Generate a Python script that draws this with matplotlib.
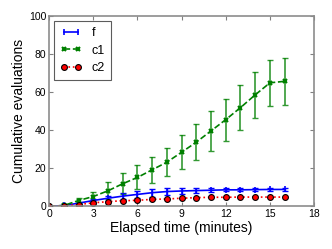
import numpy as np
import matplotlib
matplotlib.use("Agg")
import matplotlib.pyplot as plt

plt.rcParams['font.family'] = ['Liberation Sans', 'DejaVu Sans']

# elapsed time (minutes)
minutes = list(range(17))

# cumulative evaluations, mean and error
f_mean = [0, 0.5, 1.7, 3.1, 4.3, 5.4, 6.3, 7.2, 7.8, 8.1, 8.3, 8.5, 8.7, 8.7, 8.8, 8.9, 8.9]
f_err = [0, 0.3, 0.6, 1.0, 1.4, 1.7, 1.9, 2.0, 1.8, 1.5, 1.2, 1.0, 0.8, 0.7, 0.6, 0.6, 0.6]
c1_mean = [0, 0.5, 3.1, 5.2, 8.2, 11.9, 15.2, 19.2, 23.2, 28.4, 33.7, 39.6, 45.5, 51.8, 58.5, 64.8, 65.6]
c1_err = [0, 0.5, 1.5, 2.6, 4.4, 5.4, 6.3, 6.8, 7.4, 8.8, 9.4, 10.3, 11.0, 11.6, 12.0, 12.2, 12.3]
c2_mean = [0, 0.2, 1.0, 1.9, 2.5, 3.0, 3.2, 3.7, 3.9, 4.3, 4.6, 4.8, 4.8, 4.9, 4.9, 4.9, 4.9]
c2_err = [0, 0.1, 0.2, 0.3, 0.3, 0.3, 0.3, 0.3, 0.3, 0.3, 0.3, 0.3, 0.3, 0.3, 0.3, 0.3, 0.3]

fig = plt.figure(figsize=(3.32, 2.49), dpi=100)
ax = fig.add_axes([0.148, 0.171, 0.798, 0.766])

# error bars first, no legend entry
ax.errorbar(minutes, f_mean, yerr=f_err, fmt='none', ecolor='b', capsize=2.5, elinewidth=1)
ax.errorbar(minutes, c1_mean, yerr=c1_err, fmt='none', ecolor='g', capsize=2.5, elinewidth=1.2, alpha=0.8)
ax.errorbar(minutes, c2_mean, yerr=c2_err, fmt='none', ecolor='r', capsize=1.5, elinewidth=1)

# means
ax.plot(minutes, f_mean, color='b', ls='-', lw=1.2, marker='|', ms=5, mew=1.2, label='f')
ax.plot(minutes, c1_mean, color='g', ls='--', lw=1.2, marker='x', ms=3.5, mew=1.5, label='c1')
ax.plot(minutes, c2_mean, color='r', ls=':', lw=1.2, marker='o', ms=4.2, mec='k', mew=0.8, label='c2')

ax.set_xlim(0, 18)
ax.set_ylim(0, 100)
ax.set_xticks(np.arange(0, 19, 3))
ax.set_yticks(np.arange(0, 101, 20))
ax.tick_params(direction='in', top=True, right=True, length=3, labelsize=7.5,
               color='0.5', pad=2)
for s in ax.spines.values():
    s.set_color('0.55')
    s.set_linewidth(1.2)

ax.set_xlabel("Elapsed time (minutes)", fontsize=10, labelpad=1)
ax.set_ylabel("Cumulative evaluations", fontsize=10, labelpad=2)

leg = ax.legend(loc='upper left', fontsize=9, numpoints=2, fancybox=False,
                borderaxespad=0.4, handlelength=1.7, labelspacing=0.45, borderpad=0.5)
leg.get_frame().set_edgecolor('0.2')
leg.get_frame().set_linewidth(0.8)

fig.savefig("out.png", dpi=100)
